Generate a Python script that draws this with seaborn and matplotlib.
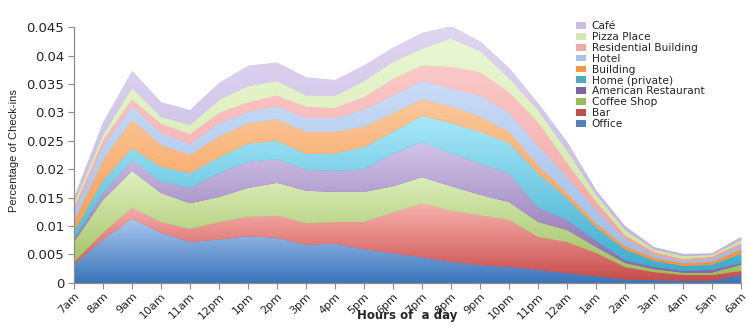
import matplotlib
matplotlib.use("Agg")
import matplotlib.pyplot as plt
import numpy as np
import seaborn as sns

hours = ["7am", "8am", "9am", "10am", "11am", "12pm", "1pm", "2pm", "3pm", "4pm",
         "5pm", "6pm", "7pm", "8pm", "9pm", "10pm", "11pm", "12am", "1am", "2am",
         "3am", "4am", "5am", "6am"]

office = [0.0032, 0.0076, 0.0113, 0.0088, 0.0072, 0.0076, 0.0082, 0.0079, 0.0067, 0.0069,
          0.0059, 0.0052, 0.0045, 0.0037, 0.0031, 0.0028, 0.0023, 0.0017, 0.0012, 0.0006,
          0.0005, 0.0004, 0.0004, 0.0014]
bar = [0.0005, 0.0012, 0.0019, 0.0019, 0.0023, 0.0031, 0.0034, 0.0039, 0.0038, 0.0038,
       0.0048, 0.0072, 0.0095, 0.0090, 0.0088, 0.0083, 0.0058, 0.0055, 0.0041, 0.0022,
       0.0014, 0.0010, 0.0010, 0.0007]
coffee_shop = [0.0035, 0.0058, 0.0065, 0.0051, 0.0045, 0.0044, 0.0051, 0.0058, 0.0057, 0.0053,
               0.0053, 0.0046, 0.0046, 0.0043, 0.0036, 0.0031, 0.0026, 0.0021, 0.0010, 0.0007,
               0.0005, 0.0004, 0.0004, 0.0011]
american_restaurant = [0.0005, 0.0012, 0.0019, 0.0020, 0.0027, 0.0042, 0.0046, 0.0042, 0.0037, 0.0037,
                       0.0040, 0.0058, 0.0062, 0.0058, 0.0055, 0.0051, 0.0025, 0.0018, 0.0011, 0.0005,
                       0.0004, 0.0003, 0.0005, 0.0003]
home_private = [0.0013, 0.0022, 0.0021, 0.0026, 0.0026, 0.0028, 0.0032, 0.0032, 0.0028, 0.0031,
                0.0039, 0.0038, 0.0046, 0.0053, 0.0056, 0.0053, 0.0061, 0.0038, 0.0024, 0.0019,
                0.0011, 0.0009, 0.0009, 0.0016]
building = [0.0018, 0.0036, 0.0050, 0.0039, 0.0032, 0.0037, 0.0036, 0.0038, 0.0039, 0.0038,
            0.0036, 0.0033, 0.0029, 0.0030, 0.0027, 0.0020, 0.0014, 0.0009, 0.0007, 0.0006,
            0.0005, 0.0005, 0.0005, 0.0008]
hotel = [0.0016, 0.0024, 0.0023, 0.0021, 0.0019, 0.0023, 0.0020, 0.0023, 0.0024, 0.0024,
         0.0030, 0.0031, 0.0033, 0.0031, 0.0037, 0.0033, 0.0034, 0.0028, 0.0023, 0.0012,
         0.0005, 0.0004, 0.0005, 0.0006]
residential_building = [0.0008, 0.0011, 0.0013, 0.0016, 0.0018, 0.0018, 0.0017, 0.0019, 0.0020, 0.0018,
                        0.0022, 0.0029, 0.0027, 0.0038, 0.0041, 0.0037, 0.0042, 0.0025, 0.0015, 0.0007,
                        0.0005, 0.0003, 0.0004, 0.0005]
pizza_place = [0.0008, 0.0009, 0.0020, 0.0012, 0.0016, 0.0023, 0.0028, 0.0025, 0.0020, 0.0021,
               0.0028, 0.0030, 0.0029, 0.0050, 0.0037, 0.0024, 0.0021, 0.0021, 0.0012, 0.0009,
               0.0005, 0.0005, 0.0003, 0.0005]
cafe = [0.0010, 0.0022, 0.0030, 0.0026, 0.0026, 0.0030, 0.0036, 0.0033, 0.0032, 0.0028,
        0.0028, 0.0025, 0.0028, 0.0022, 0.0017, 0.0018, 0.0012, 0.0016, 0.0008, 0.0007,
        0.0004, 0.0004, 0.0003, 0.0006]

labels = ["Office", "Bar", "Coffee Shop", "American Restaurant", "Home (private)",
          "Building", "Hotel", "Residential Building", "Pizza Place", "Café"]
series = [office, bar, coffee_shop, american_restaurant, home_private,
          building, hotel, residential_building, pizza_place, cafe]

# (dark bottom, light top) of each Excel-like gradient
gradients = [("#3a74ba", "#a9c9f1"), ("#c64d4a", "#f9b2af"), ("#9dbf5c", "#def0bf"),
             ("#8667ad", "#d2c5e8"), ("#3cadcd", "#a8e8f9"), ("#f7923f", "#fbc89c"),
             ("#9bbde9", "#cadcf6"), ("#f0a09e", "#fac9c8"), ("#cbe59e", "#eaf7d4"),
             ("#c3b3df", "#dfd6f1")]
legend_colors = ["#4f81bd", "#c0504d", "#9bbb59", "#8064a2", "#4bacc6",
                 "#f79646", "#a9c4eb", "#f2a9a7", "#d4e9b0", "#cbbde3"]

sns.set_style("white")
plt.rcParams["font.family"] = ["DejaVu Sans"]

fig = plt.figure(figsize=(7.47, 3.27), dpi=100)
ax = fig.add_axes([0.099, 0.135, 0.893, 0.782])

x = np.arange(len(hours))
polys = ax.stackplot(x, *series, labels=labels, colors=legend_colors, linewidth=0)
grad = np.linspace(0, 1, 256).reshape(-1, 1)
for poly, (dark, light) in zip(polys, gradients):
    path = poly.get_paths()[0]
    v = path.vertices
    x0, y0 = v.min(axis=0)
    x1, y1 = v.max(axis=0)
    cmap = sns.blend_palette([dark, light], as_cmap=True)
    im = ax.imshow(grad, cmap=cmap, origin="lower", extent=[x0, x1, y0, y1],
                   aspect="auto", interpolation="bilinear", zorder=poly.get_zorder())
    im.set_clip_path(path, ax.transData)

ax.set_xlim(0, len(hours) - 1)
ax.set_ylim(0, 0.045)
ax.set_xticks(x)
ax.set_xticklabels(hours, rotation=45, ha="right", rotation_mode="anchor", fontsize=8)
yt = np.arange(0, 0.0451, 0.005)
ax.set_yticks(yt)
ax.set_yticklabels([f"{t:g}" for t in yt], fontsize=9.5)

sns.despine(ax=ax)
for s in ["left", "bottom"]:
    ax.spines[s].set_color("#8c8c8c")
    ax.spines[s].set_linewidth(0.9)
ax.tick_params(axis="both", direction="out", length=4, width=0.8, color="#8c8c8c",
               left=True, bottom=True, pad=3)
ax.tick_params(axis="x", pad=2)

fig.text(0.545, 0.034, "Hours of  a day", fontsize=8.5, fontweight="bold",
         ha="center", va="center")
fig.text(0.019, 0.54, "Percentage of Check-ins", fontsize=8, rotation=90,
         family=["Liberation Sans", "DejaVu Sans"], ha="center", va="center")

h, l = ax.get_legend_handles_labels()
ax.legend(h[::-1], l[::-1], loc="upper left", bbox_to_anchor=(0.765, 0.948),
          bbox_transform=fig.transFigure, frameon=False, fontsize=7.7,
          handlelength=1.0, handleheight=0.6, handletextpad=0.5, labelspacing=0.08,
          borderaxespad=0)

fig.savefig("out.png", dpi=100)
